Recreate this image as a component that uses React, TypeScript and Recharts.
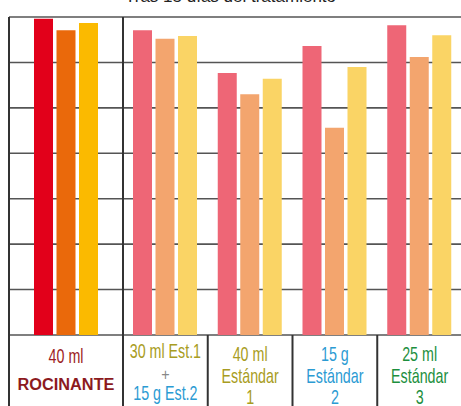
import { BarChart, Bar, XAxis, YAxis, CartesianGrid } from 'recharts'

const title = 'Tras 15 días del tratamiento'
const categories = ['rocinante', 'est1+est2', 'est1', 'est2', 'est3']
const tickLines = [
  ['40 ml', 'ROCINANTE'],
  ['30 ml Est.1', '+', '15 g Est.2'],
  ['40 ml', 'Estándar', '1'],
  ['15 g', 'Estándar', '2'],
  ['25 ml', 'Estándar', '3'],
]
const serieA = [69.6, 67.1, 57.7, 63.6, 68.2]
const serieB = [67.1, 65.2, 53.0, 45.6, 61.2]
const serieC = [68.7, 65.8, 56.4, 59.0, 66.0]
const yTicks = [0, 10, 20, 30, 40, 50, 60, 70]

const rows = categories.map((key, i) => ({ key, a: serieA[i], b: serieB[i], c: serieC[i] }))

// colours / text styles (one entry per label line)
const RED = '#9d1c24'
const OLIVE = '#a89c22'
const BLUE = '#2b9bd3'
const GREEN = '#1d8f3e'
const reg = (color: string, dy: number) => ({ color, dy, size: 21, weight: 400, sx: 0.68 })
const lineStyles = [
  [reg(RED, 28), { color: '#8c1a1e', dy: 55, size: 16, weight: 700, sx: 1.02 }],
  [reg(OLIVE, 23), { color: '#888', dy: 45, size: 16, weight: 400, sx: 0.9 }, reg(BLUE, 65)],
  [reg(OLIVE, 26), reg(OLIVE, 48), reg(OLIVE, 69)],
  [reg(BLUE, 26), reg(BLUE, 48), reg(BLUE, 69)],
  [reg(GREEN, 26), reg(GREEN, 48), reg(GREEN, 69)],
]

const FONT = '"Liberation Sans", Arial, sans-serif'

function GroupTick(props: any) {
  const { x, y, payload } = props
  const idx = categories.indexOf(payload.value)
  const half = payload.offset ?? 0
  return (
    <g>
      <line x1={x - half} x2={x - half} y1={y} y2={y + 80} stroke="#333" strokeWidth={2} />
      {tickLines[idx].map((t, k) => {
        const s = lineStyles[idx][k]
        return (
          <text
            key={k}
            transform={`translate(${x},${y + s.dy}) scale(${s.sx},1)`}
            textAnchor="middle"
            fill={s.color}
            fontSize={s.size}
            fontWeight={s.weight}
            fontFamily={FONT}
          >
            {t}
          </text>
        )
      })}
    </g>
  )
}

const NoTick = () => <g />

function Panel({ data, colors, width, left }: { data: typeof rows; colors: string[]; width: number; left: number }) {
  return (
    <BarChart
      width={width}
      height={410}
      data={data}
      margin={{ top: 17, right: 0, left, bottom: 0 }}
      barGap={3.5}
    >
      <CartesianGrid vertical={false} horizontal stroke="#555" strokeWidth={1.6} />
      <XAxis
        dataKey="key"
        height={75}
        interval={0}
        tickSize={0}
        tickMargin={0}
        axisLine={false}
        tickLine={false}
        tick={GroupTick}
      />
      <YAxis
        type="number"
        domain={[0, 70]}
        ticks={yTicks}
        interval={0}
        tick={NoTick}
        tickLine={false}
        width={1}
        axisLine={{ stroke: '#333', strokeWidth: 2 }}
      />
      <Bar dataKey="a" fill={colors[0]} barSize={19} isAnimationActive={false} />
      <Bar dataKey="b" fill={colors[1]} barSize={19} isAnimationActive={false} />
      <Bar dataKey="c" fill={colors[2]} barSize={19} isAnimationActive={false} />
    </BarChart>
  )
}

export default function App() {
  return (
    <div style={{ position: 'absolute', left: 0, top: 0, width: 461, height: 406, overflow: 'hidden', background: '#fff' }}>
      <div
        style={{
          position: 'absolute', left: 0, top: -12, width: 461, textAlign: 'center',
          fontFamily: FONT, fontSize: 17, lineHeight: '17px', color: '#222',
        }}
      >
        {title}
      </div>
      <div style={{ position: 'absolute', left: 0, top: 0 }}>
        <Panel data={rows.slice(0, 1)} colors={['#e2001a', '#ea690b', '#fbba00']} width={123} left={8} />
      </div>
      <div style={{ position: 'absolute', left: 121, top: 0 }}>
        <Panel data={rows.slice(1)} colors={['#ee6676', '#f3a56e', '#fad465']} width={341} left={1} />
      </div>
    </div>
  )
}
